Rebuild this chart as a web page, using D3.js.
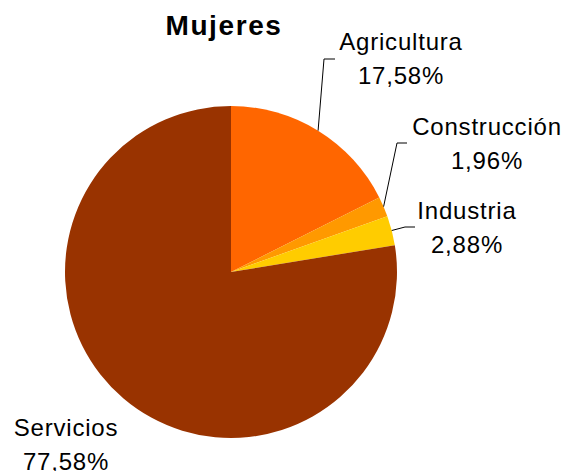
<!DOCTYPE html>
<html lang="es">
<head>
<meta charset="UTF-8">
<title>Mujeres</title>
<style>
  body { margin: 0; background: #fff; }
  text { font-family: "Liberation Sans", Arial, sans-serif; fill: #000; }
</style>
</head>
<body>
<script src="https://d3js.org/d3.v7.min.js"></script>
<div id="chart"></div>
<script>
// data
var sectores = ["Agricultura", "Construcción", "Industria", "Servicios"];
var porcentajes = [17.58, 1.96, 2.88, 77.58];
var etiquetasPct = ["17,58%", "1,96%", "2,88%", "77,58%"];
var colores = ["#ff6600", "#ff9900", "#ffcc00", "#993300"];

var width = 567, height = 471;
var cx = 231, cy = 272, radius = 166;

// label placement (x centre, baseline of first line) and leader elbow
var labelPos = [
  { x: 401, y: 50, elbow: [324, 59], end: 335 },
  { x: 487, y: 135, elbow: [397, 143], end: 407 },
  { x: 467, y: 219, elbow: [405, 227], end: 415 },
  { x: 66, y: 436, elbow: null }
];

var svg = d3.select("#chart").append("svg")
  .attr("width", width)
  .attr("height", height);

svg.append("text")
  .attr("x", 224)
  .attr("y", 35)
  .attr("text-anchor", "middle")
  .style("font-size", "28px")
  .style("font-weight", "bold")
  .style("letter-spacing", "1.6px")
  .text("Mujeres");

var pie = d3.pie().sort(null).value(function (d) { return d; });
var arcs = pie(porcentajes);
var arc = d3.arc().innerRadius(0).outerRadius(radius);

var g = svg.append("g").attr("transform", "translate(" + cx + "," + cy + ")");

g.selectAll("path.slice")
  .data(arcs)
  .enter()
  .append("path")
  .attr("class", "slice")
  .attr("d", arc)
  .style("fill", function (d, i) { return colores[i]; });

// leader lines
arcs.forEach(function (d, i) {
  var p = labelPos[i];
  if (!p.elbow) return;
  var a = (d.startAngle + d.endAngle) / 2;
  var sx = cx + radius * Math.sin(a), sy = cy - radius * Math.cos(a);
  svg.append("path")
    .attr("d", d3.line()([[sx, sy], p.elbow, [p.end, p.elbow[1]]]))
    .style("fill", "none")
    .style("stroke", "#000")
    .style("stroke-width", 1);
});

// labels
sectores.forEach(function (s, i) {
  var p = labelPos[i];
  var t = svg.append("text")
    .attr("text-anchor", "middle")
    .style("font-size", "24px")
    .style("letter-spacing", "0.8px");
  t.append("tspan").attr("x", p.x).attr("y", p.y).text(s);
  t.append("tspan").attr("x", p.x).attr("y", p.y + 34).text(etiquetasPct[i]);
});
</script>
</body>
</html>
